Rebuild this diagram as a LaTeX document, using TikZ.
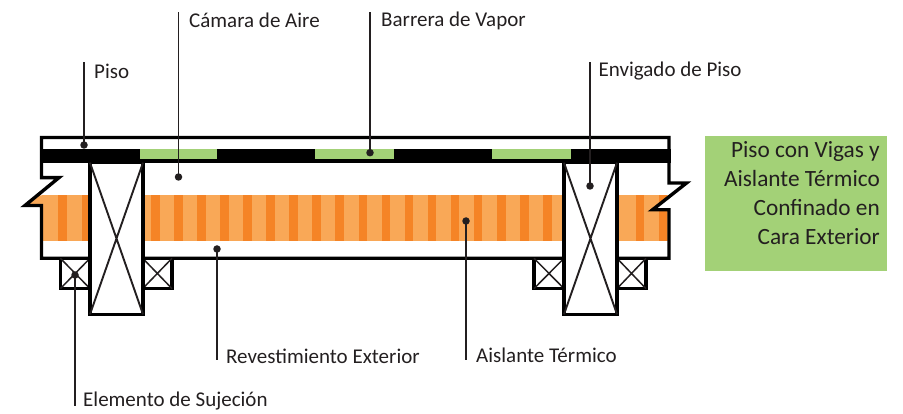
\documentclass[tikz,border=0pt]{standalone}
\usepackage{fontspec}
\setmainfont{Carlito}
\definecolor{inklab}{HTML}{231F20}
\definecolor{leaf}{HTML}{A3D177}
\definecolor{insL}{HTML}{F9A857}
\definecolor{insD}{HTML}{F58426}
\tikzset{
  wall/.style={line width=3.4pt,draw=black,line join=miter,miter limit=10},
  boxpart/.style={wall,fill=white,inner sep=0pt,outer sep=0pt,anchor=north west},
  thin cross/.style={line width=1.9pt,draw=inklab},
  small cross/.style={line width=1.5pt,draw=inklab},
  leader/.style={line width=1.8pt,draw=inklab},
  dotm/.style={circle,fill=inklab,inner sep=0pt,minimum size=7.5pt},
  lab/.style={anchor=west,inner sep=0pt,font=\fontsize{21pt}{24pt}\selectfont,text=inklab},
}
\begin{document}
\begin{tikzpicture}[x=1pt,y=-1pt]
\useasboundingbox (0,0) rectangle (903,414);
% insulation
\fill[insL] (41.5,195.3) rectangle (667.5,240.7);
\fill[insL] (37.4,195.3) -- (25,205.5) -- (43,205.5) -- (43,195.3) -- cycle;
\foreach \x in {58.3,81.7} \fill[insD] (\x,195.3) rectangle +(8.6,45.4);
\foreach \k in {0,...,17} \fill[insD] ({151+23.06*\k},195.3) rectangle +(8.6,45.4);
\foreach \x in {636,659} \fill[insD] (\x,195.3) rectangle +(8.4,45.4);
\fill[white] (671,195) -- (671,209.8) -- (652.5,209.8) -- cycle;
% band
\fill[black] (40,149) rectangle (670.7,162.7);
\foreach \x/\w in {140/77,315/79,492/79} \fill[leaf] (\x,149) rectangle +(\w,10.5);
% outline
\draw[wall,fill=none] (59,177.6) -- (41.5,177.6) -- (41.5,137.5) -- (669,137.5) -- (669,183) -- (686.5,183) -- (652.5,209.8) -- (669,209.8) -- (669,258.3) -- (41.5,258.3) -- (41.5,205.5) -- (25,205.5) -- cycle;
% small blocks
\foreach \n/\a/\w in {a/60.4/29.6,b/142.7/29.3,c/534/30,d/617/29}{
  \node[boxpart,minimum width=\w pt,minimum height=30.3pt] (\n) at (\a,258.3) {};
  \draw[small cross] (\n.north west) -- (\n.south east) (\n.north east) -- (\n.south west);
}
% joists
\foreach \n/\a in {j/90,k/564}{
  \node[boxpart,minimum width=53pt,minimum height=151.6pt] (\n) at (\a,162.7) {};
  \draw[thin cross] (\n.north west) -- (\n.south east) (\n.north east) -- (\n.south west);
}
% leaders
\coordinate (d1) at (84,145); \coordinate (t1) at (84,62);
\coordinate (d2) at (178.5,177); \coordinate (t2) at (178.5,12.5);
\coordinate (d3) at (370,152.7); \coordinate (t3) at (370,12.5);
\coordinate (d4) at (590,186); \coordinate (t4) at (590,62.5);
\coordinate (d5) at (75,275); \coordinate (t5) at (75,406);
\coordinate (d6) at (217,249); \coordinate (t6) at (217,360);
\coordinate (d7) at (466,221); \coordinate (t7) at (466,360);
\foreach \i in {1,...,7}{ \node[dotm] (p\i) at (d\i) {}; \draw[leader] (p\i.center) -- (t\i); }
\node[lab] (l1) at (94,71.5) {Piso};
\node[lab] (l2) at (189,20.5) {Cámara de Aire};
\node[lab] (l3) at (381,20.5) {Barrera de Vapor};
\node[lab] (l4) at (598.5,71.5) {Envigado de Piso};
\node[lab] (l5) at (83,401.5) {Elemento de Sujeción};
\node[lab] (l6) at (226,356) {Revestimiento Exterior};
\node[lab] (l7) at (476,355) {Aislante Térmico};
\node[fill=leaf,minimum width=182pt,minimum height=134.7pt,anchor=north west,inner sep=0pt,outer sep=0pt] (box) at (705,136) {};
\node[anchor=north east,align=right,inner sep=0pt,font=\fontsize{23.3pt}{29pt}\selectfont,text=inklab] (title) at (880,141) {Piso con Vigas y\\Aislante Térmico\\Confinado en\\Cara Exterior};
\end{tikzpicture}
\end{document}
